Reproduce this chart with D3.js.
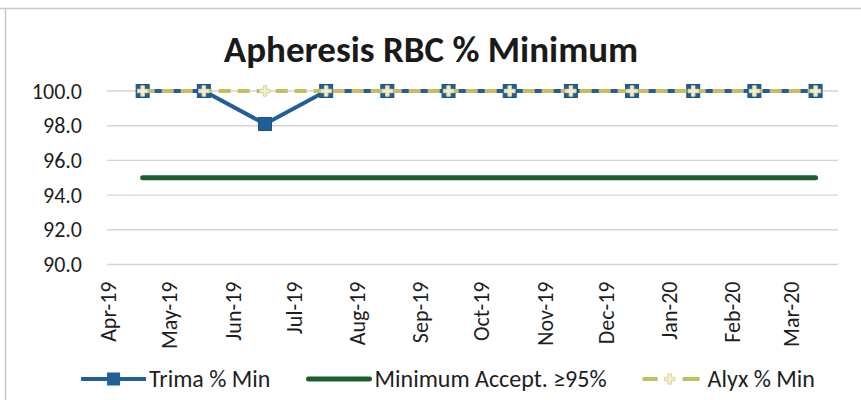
<!DOCTYPE html>
<html>
<head>
<meta charset="utf-8">
<script src="https://cdn.jsdelivr.net/npm/d3@7"></script>
<style>
  body { margin: 0; background: #fff; }
  svg { display: block; font-family: Carlito, Calibri, Lato, sans-serif; }
</style>
</head>
<body>
<svg id="chart" width="861" height="400"></svg>
<script>
// data
const pointDates = ["2019-04-18", "2019-05-18", "2019-06-17", "2019-07-17", "2019-08-16", "2019-09-15",
  "2019-10-15", "2019-11-14", "2019-12-14", "2020-01-13", "2020-02-12", "2020-03-13"];
const monthLabels = ["Apr-19", "May-19", "Jun-19", "Jul-19", "Aug-19", "Sep-19",
  "Oct-19", "Nov-19", "Dec-19", "Jan-20", "Feb-20", "Mar-20"];
const trima = [100, 100, 98.1, 100, 100, 100, 100, 100, 100, 100, 100, 100];
const minimum = [95, 95, 95, 95, 95, 95, 95, 95, 95, 95, 95, 95];
const alyx = [100, 100, 100, 100, 100, 100, 100, 100, 100, 100, 100, 100];
const yTicks = [90, 92, 94, 96, 98, 100];

const parseDay = d3.timeParse("%Y-%m-%d");
const parseMonth = d3.timeParse("%b-%y");
const dates = pointDates.map(parseDay);
const monthDates = monthLabels.map(parseMonth);

const blue = "#235f97", green = "#1c5f2c", olive = "#c4be63", cream = "#f5edd2";

const svg = d3.select("#chart");

/* frame */
svg.append("line").attr("x1", 0).attr("x2", 861).attr("y1", 8.5).attr("y2", 8.5)
  .attr("stroke", "#c8c8c8").attr("stroke-width", 1.5);
svg.append("line").attr("x1", 5.5).attr("x2", 5.5).attr("y1", 8).attr("y2", 400)
  .attr("stroke", "#c8c8c8").attr("stroke-width", 1.5);

/* title */
svg.append("text")
  .attr("x", 431).attr("y", 62)
  .attr("text-anchor", "middle")
  .attr("font-size", 37).attr("font-weight", "bold").attr("fill", "#1a1a1a")
  .text("Apheresis RBC % Minimum");

/* scales */
const x = d3.scaleTime()
  .domain([parseDay("2019-04-01"), parseDay("2020-03-24")])
  .range([108, 838]);
const y = d3.scaleLinear().domain([90, 100]).range([264.5, 91]);

/* grid */
svg.append("g").selectAll("line")
  .data(yTicks)
  .enter().append("line")
  .attr("x1", 107).attr("x2", 838)
  .attr("y1", d => y(d)).attr("y2", d => y(d))
  .attr("stroke", "#d4d4d4").attr("stroke-width", 1.4);

/* y axis */
const yAxis = svg.append("g")
  .attr("transform", "translate(107,0)")
  .call(d3.axisLeft(y).tickValues(yTicks).tickFormat(d3.format(".1f")).tickSize(0).tickPadding(25))
  .attr("font-family", null).attr("font-size", null);
yAxis.select(".domain").remove();
yAxis.selectAll("text").attr("font-size", 22).attr("fill", "#1e1e1e");

/* x axis */
const xAxis = svg.append("g")
  .attr("transform", `translate(0,${y(90)})`)
  .call(d3.axisBottom(x).tickValues(monthDates).tickFormat((d, i) => monthLabels[i]).tickSize(0))
  .attr("font-family", null).attr("font-size", null);
xAxis.select(".domain").remove();
xAxis.selectAll("text")
  .attr("transform", "rotate(-90)")
  .attr("x", -17).attr("y", 0).attr("dy", "0.35em")
  .style("text-anchor", "end")
  .attr("font-size", 22).attr("fill", "#1e1e1e");

/* series */
const line = d3.line().x((d, i) => x(dates[i])).y(d => y(d));

svg.append("path").datum(minimum)
  .attr("d", line).attr("fill", "none")
  .attr("stroke", green).attr("stroke-width", 5).attr("stroke-linecap", "round");

svg.append("path").datum(trima)
  .attr("d", line).attr("fill", "none")
  .attr("stroke", blue).attr("stroke-width", 4).attr("stroke-linejoin", "round");

svg.append("g").selectAll("rect")
  .data(trima)
  .enter().append("rect")
  .attr("x", (d, i) => x(dates[i]) - 6.5).attr("y", d => y(d) - 6.5)
  .attr("width", 13).attr("height", 13)
  .attr("fill", blue).attr("stroke", "#1d5286").attr("stroke-width", 1);

svg.append("path").datum(alyx)
  .attr("d", line).attr("fill", "none")
  .attr("stroke", olive).attr("stroke-width", 4).attr("stroke-dasharray", "12,7");

const cross = d3.symbol().type(d3.symbolCross).size(60);
svg.append("g").selectAll("path")
  .data(alyx)
  .enter().append("path")
  .attr("d", cross)
  .attr("transform", (d, i) => `translate(${x(dates[i])},${y(d)})`)
  .attr("fill", cream).attr("stroke", "#ddd49a").attr("stroke-width", 1);

/* legend */
const legendItems = [
  { name: "Trima % Min", kind: "trima" },
  { name: "Minimum Accept. \u226595%", kind: "min" },
  { name: "Alyx % Min", kind: "alyx" }
];
const legend = svg.append("g");
let lx = 0;
const ly = 379;
legendItems.forEach(item => {
  const g = legend.append("g").attr("transform", `translate(${lx},0)`);
  if (item.kind === "trima") {
    g.append("line").attr("x1", 0).attr("x2", 65).attr("y1", ly).attr("y2", ly)
      .attr("stroke", blue).attr("stroke-width", 4);
    g.append("rect").attr("x", 26).attr("y", ly - 6.5).attr("width", 13).attr("height", 13).attr("fill", blue);
  } else if (item.kind === "min") {
    g.append("line").attr("x1", 2).attr("x2", 63).attr("y1", ly).attr("y2", ly)
      .attr("stroke", green).attr("stroke-width", 5).attr("stroke-linecap", "round");
  } else {
    g.append("line").attr("x1", 0).attr("x2", 57).attr("y1", ly).attr("y2", ly)
      .attr("stroke", olive).attr("stroke-width", 4).attr("stroke-dasharray", "15,25,17");
    g.append("path").attr("d", cross)
      .attr("transform", `translate(27,${ly})`)
      .attr("fill", cream).attr("stroke", "#ddd49a");
  }
  const tx = item.kind === "alyx" ? 65 : 68;
  const t = g.append("text")
    .attr("x", tx).attr("y", ly).attr("dy", "0.35em")
    .attr("font-size", 24).attr("fill", "#1e1e1e")
    .text(item.name);
  lx += tx + t.node().getComputedTextLength() + 36;
});
const lb = legend.node().getBBox();
legend.attr("transform", `translate(${448 - (lb.x + lb.width / 2)},0)`);
</script>
</body>
</html>
